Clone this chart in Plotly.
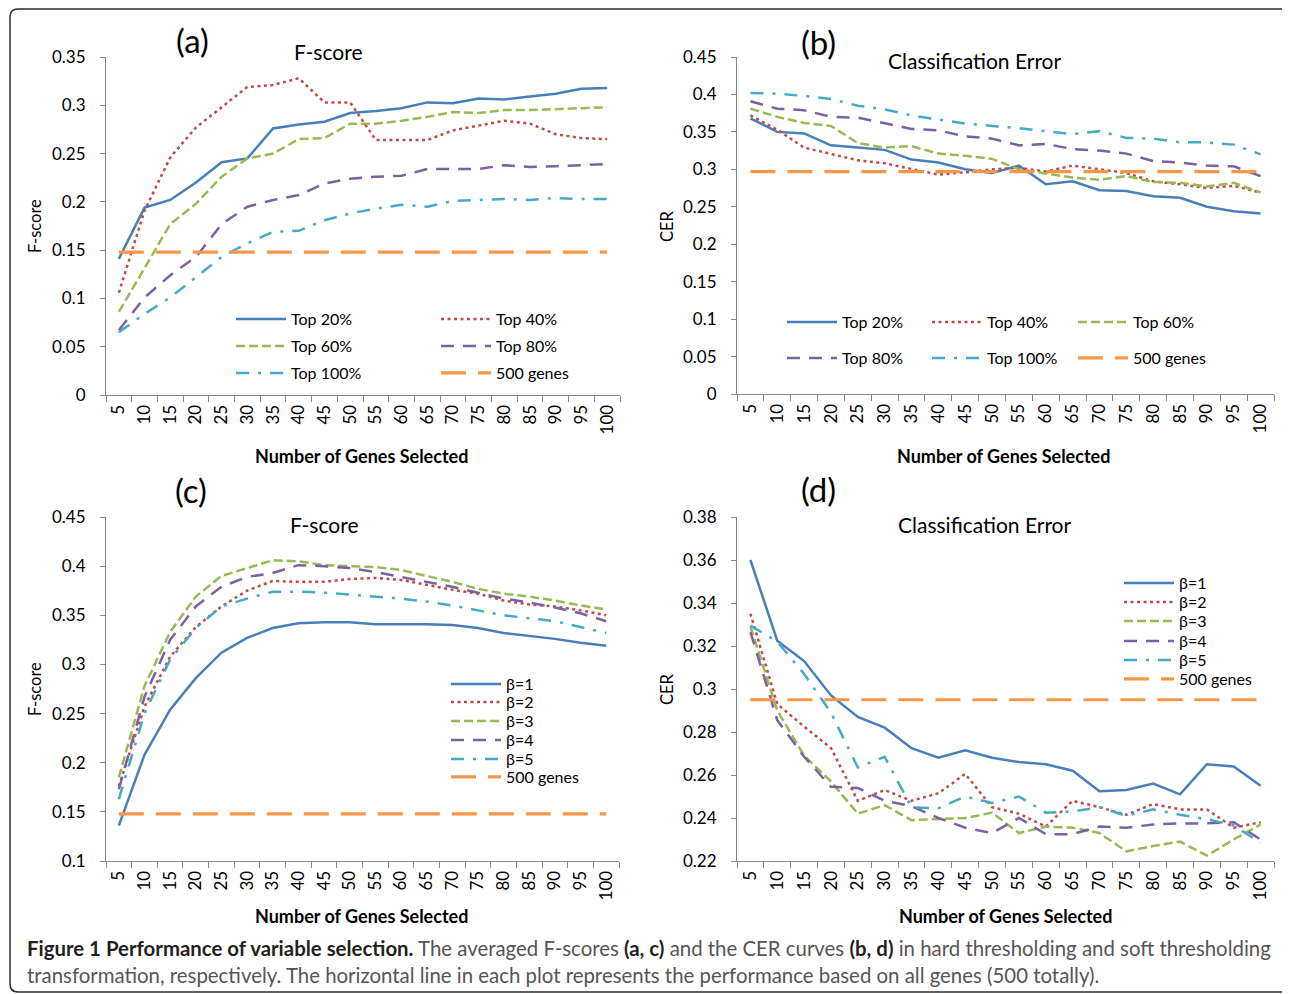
import plotly.graph_objects as go

# ---------------- data ----------------
genes = ["5", "10", "15", "20", "25", "30", "35", "40", "45", "50",
         "55", "60", "65", "70", "75", "80", "85", "90", "95", "100"]

# (a) F-score, hard thresholding
a_top20 = [0.141, 0.194, 0.202, 0.220, 0.241, 0.245, 0.276, 0.280, 0.283, 0.292,
           0.294, 0.297, 0.303, 0.302, 0.307, 0.306, 0.309, 0.312, 0.317, 0.318]
a_top40 = [0.106, 0.191, 0.246, 0.277, 0.298, 0.319, 0.321, 0.328, 0.303, 0.303,
           0.264, 0.264, 0.264, 0.274, 0.279, 0.284, 0.281, 0.270, 0.266, 0.265]
a_top60 = [0.086, 0.132, 0.177, 0.198, 0.226, 0.245, 0.250, 0.265, 0.266, 0.281,
           0.281, 0.284, 0.288, 0.293, 0.292, 0.295, 0.295, 0.296, 0.297, 0.298]
a_top80 = [0.067, 0.101, 0.124, 0.143, 0.177, 0.195, 0.202, 0.207, 0.219, 0.224,
           0.226, 0.227, 0.234, 0.234, 0.234, 0.238, 0.236, 0.237, 0.238, 0.239]
a_top100 = [0.065, 0.084, 0.101, 0.122, 0.143, 0.157, 0.169, 0.170, 0.181, 0.188,
            0.193, 0.197, 0.195, 0.201, 0.202, 0.203, 0.202, 0.204, 0.203, 0.203]
a_all = [0.148] * 20

# (b) CER, hard thresholding
b_top20 = [0.368, 0.350, 0.348, 0.332, 0.329, 0.326, 0.313, 0.309, 0.300, 0.295,
           0.305, 0.280, 0.284, 0.272, 0.271, 0.264, 0.262, 0.250, 0.244, 0.241]
b_top40 = [0.372, 0.353, 0.329, 0.320, 0.312, 0.308, 0.300, 0.293, 0.296, 0.300,
           0.302, 0.297, 0.305, 0.300, 0.295, 0.284, 0.280, 0.275, 0.278, 0.269]
b_top60 = [0.381, 0.370, 0.362, 0.358, 0.335, 0.329, 0.331, 0.321, 0.318, 0.314,
           0.300, 0.295, 0.289, 0.286, 0.291, 0.283, 0.282, 0.277, 0.282, 0.269]
b_top80 = [0.391, 0.381, 0.379, 0.370, 0.369, 0.362, 0.354, 0.352, 0.344, 0.341,
           0.332, 0.334, 0.327, 0.325, 0.321, 0.311, 0.309, 0.305, 0.304, 0.291]
b_top100 = [0.402, 0.401, 0.398, 0.394, 0.385, 0.380, 0.372, 0.367, 0.361, 0.358,
            0.355, 0.351, 0.347, 0.351, 0.342, 0.341, 0.336, 0.336, 0.333, 0.320]
b_all = [0.297] * 20

# (c) F-score, soft thresholding
c_b1 = [0.136, 0.208, 0.254, 0.286, 0.312, 0.327, 0.337, 0.342, 0.343, 0.343,
        0.341, 0.341, 0.341, 0.340, 0.337, 0.332, 0.329, 0.326, 0.322, 0.319]
c_b2 = [0.176, 0.257, 0.308, 0.338, 0.359, 0.375, 0.385, 0.384, 0.384, 0.387,
        0.388, 0.386, 0.381, 0.376, 0.372, 0.365, 0.361, 0.359, 0.355, 0.350]
c_b3 = [0.185, 0.278, 0.333, 0.369, 0.390, 0.398, 0.406, 0.405, 0.401, 0.400,
        0.399, 0.396, 0.390, 0.384, 0.377, 0.372, 0.369, 0.365, 0.360, 0.356]
c_b4 = [0.173, 0.267, 0.325, 0.359, 0.379, 0.389, 0.393, 0.401, 0.400, 0.398,
        0.394, 0.389, 0.384, 0.379, 0.373, 0.367, 0.363, 0.358, 0.352, 0.344]
c_b5 = [0.163, 0.250, 0.305, 0.337, 0.359, 0.367, 0.374, 0.374, 0.373, 0.371,
        0.369, 0.367, 0.364, 0.360, 0.355, 0.350, 0.347, 0.344, 0.338, 0.332]
c_all = [0.148] * 20

# (d) CER, soft thresholding
d_b1 = [0.360, 0.3225, 0.313, 0.297, 0.287, 0.282, 0.2725, 0.268, 0.2715, 0.268,
        0.266, 0.265, 0.262, 0.2525, 0.253, 0.256, 0.251, 0.265, 0.264, 0.255]
d_b2 = [0.335, 0.293, 0.2825, 0.2725, 0.248, 0.253, 0.248, 0.2515, 0.2605, 0.245,
        0.242, 0.236, 0.248, 0.245, 0.2415, 0.2465, 0.244, 0.244, 0.2355, 0.238]
d_b3 = [0.329, 0.290, 0.269, 0.257, 0.242, 0.246, 0.239, 0.2395, 0.240, 0.2425,
        0.233, 0.236, 0.2355, 0.233, 0.2245, 0.227, 0.229, 0.2225, 0.230, 0.237]
d_b4 = [0.3265, 0.2855, 0.2685, 0.2545, 0.254, 0.248, 0.2455, 0.240, 0.2355, 0.233,
        0.240, 0.2325, 0.2325, 0.236, 0.2355, 0.237, 0.2375, 0.2375, 0.238, 0.230]
d_b5 = [0.3295, 0.322, 0.307, 0.289, 0.2635, 0.2685, 0.245, 0.2445, 0.250, 0.247,
        0.250, 0.2425, 0.243, 0.245, 0.241, 0.244, 0.2415, 0.2395, 0.2365, 0.2285]
d_all = [0.295] * 20

names_hard = ["Top 20%", "Top 40%", "Top 60%", "Top 80%", "Top 100%", "500 genes"]
names_soft = ["β=1", "β=2", "β=3", "β=4", "β=5", "500 genes"]

# ---------------- styles ----------------
W, H = 1282, 986          # page body adds an 8px margin
OFF = 8
FONT = "Lato, 'Open Sans', sans-serif"
colors = ["#4A7EBB", "#BE4B48", "#98B954", "#7D60A0", "#46AAC5", "#F79646"]
dashes = ["solid", "3px,3.5px", "9px,4px", "13px,9px", "13px,9px,3px,9px", "25px,12px"]
widths = [2.5, 2.5, 2.5, 2.5, 2.5, 3.2]

def px_x(p):
    return (p - OFF) / W

def px_y(p):
    return 1 - (p - OFF) / H

panels = [
    dict(series=[a_top20, a_top40, a_top60, a_top80, a_top100, a_all], names=names_hard,
         xd=(106, 620), yd=(395, 57), yr=(0, 0.35), dt=0.05,
         leg=[(236, 319), (441, 319), (236, 346), (441, 346), (236, 373), (441, 373)]),
    dict(series=[b_top20, b_top40, b_top60, b_top80, b_top100, b_all], names=names_hard,
         xd=(737, 1274), yd=(394, 57), yr=(0, 0.45), dt=0.05,
         leg=[(787, 322), (932, 322), (1078, 322), (787, 358), (932, 358), (1078, 358)]),
    dict(series=[c_b1, c_b2, c_b3, c_b4, c_b5, c_all], names=names_soft,
         xd=(106, 619), yd=(861, 517), yr=(0.1, 0.45), dt=0.05,
         leg=[(451, 684), (451, 702), (451, 721), (451, 740), (451, 759), (451, 777)]),
    dict(series=[d_b1, d_b2, d_b3, d_b4, d_b5, d_all], names=names_soft,
         xd=(737, 1274), yd=(861, 517), yr=(0.22, 0.38), dt=0.02,
         leg=[(1124, 583), (1124, 602), (1124, 621), (1124, 641), (1124, 660), (1124, 679)]),
]

fig = go.Figure()
layout = dict(
    width=W, height=H,
    margin=dict(l=0, r=0, t=0, b=0, pad=0, autoexpand=False),
    paper_bgcolor="white", plot_bgcolor="white",
    font=dict(family=FONT, size=16, color="#000000"),
)

AXC = "#878787"
leg_idx = 0
for i, p in enumerate(panels):
    n = "" if i == 0 else str(i + 1)
    xa, ya = "x" + n, "y" + n
    for j, (ser, name) in enumerate(zip(p["series"], p["names"])):
        leg_idx += 1
        lname = "legend" if leg_idx == 1 else "legend" + str(leg_idx)
        fig.add_trace(go.Scatter(
            x=genes, y=ser, name=name, mode="lines",
            line=dict(color=colors[j], width=widths[j], dash=dashes[j]),
            xaxis=xa, yaxis=ya, legend=lname, showlegend=True,
        ))
        lx, ly = p["leg"][j]
        layout[lname] = dict(
            x=px_x(lx - 5), y=px_y(ly), xanchor="left", yanchor="middle",
            xref="paper", yref="paper",
            orientation="h", bgcolor="rgba(0,0,0,0)", borderwidth=0,
            itemwidth=50, font=dict(family=FONT, size=16, color="#000000"),
            traceorder="normal",
        )
    layout["xaxis" + n] = dict(
        domain=[px_x(p["xd"][0]), px_x(p["xd"][1])], anchor=ya,
        type="category", categoryorder="array", categoryarray=genes,
        range=[-0.5, len(genes) - 0.5],
        tickangle=-90, tickson="boundaries", ticks="outside", ticklen=6,
        tickcolor=AXC, showline=True, linecolor=AXC, linewidth=1,
        showgrid=False, zeroline=False, tickfont=dict(size=17),
        ticklabelstandoff=2, automargin=False,
    )
    layout["yaxis" + n] = dict(
        domain=[px_y(p["yd"][0]), px_y(p["yd"][1])], anchor=xa,
        range=list(p["yr"]), tickmode="linear", tick0=p["yr"][0], dtick=p["dt"],
        ticks="outside", ticklen=5, tickcolor=AXC, showline=True, linecolor=AXC,
        linewidth=1, showgrid=False, zeroline=False, tickfont=dict(size=17),
        ticklabelstandoff=11, automargin=False,
    )

fig.update_layout(**layout)

def ann(text, x, y, size, bold=False, angle=0, xanchor="center", color="#000000"):
    fig.add_annotation(
        text=("<b>%s</b>" % text) if bold else text,
        x=px_x(x), y=px_y(y), xref="paper", yref="paper",
        xanchor=xanchor, yanchor="middle", showarrow=False, textangle=angle,
        font=dict(family=FONT, size=size, color=color),
    )

panel_labels = [("(a)", 193, 40), ("(b)", 818, 42), ("(c)", 191, 490), ("(d)", 818, 489)]
for t, x, y in panel_labels:
    ann(t, x, y, 33)

titles = [("F-score", 328, 52), ("Classification Error", 975, 61),
          ("F-score", 324, 524), ("Classification Error", 985, 524)]
for t, x, y in titles:
    ann(t, x, y, 21)

ytitles = [("F-score", 35, 226), ("CER", 667, 226), ("F-score", 35, 689), ("CER", 667, 689)]
for t, x, y in ytitles:
    ann(t, x, y, 16.5, angle=-90)

xtitles = [(362, 456), (1003, 456), (361, 916), (1005, 916)]
for x, y in xtitles:
    ann("Number of Genes Selected", x, y, 18, bold=True)

CAP_FONT = "Lato, 'Open Sans', sans-serif"
cap1 = ("<b>Figure 1 Performance of variable selection.</b>"
        "<span style='color:#555555'> The averaged F-scores </span><b>(a, c)</b>"
        "<span style='color:#555555'> and the CER curves </span><b>(b, d)</b>"
        "<span style='color:#555555'> in hard thresholding and soft thresholding</span>")
cap2 = ("<span style='color:#555555'>transformation, respectively. The horizontal line in each plot "
        "represents the performance based on all genes (500 totally).</span>")
for t, y in [(cap1, 948), (cap2, 975)]:
    fig.add_annotation(text=t, x=px_x(25), y=px_y(y), xref="paper", yref="paper",
                       xanchor="left", yanchor="middle", showarrow=False,
                       font=dict(family=CAP_FONT, size=20.4, color="#231F20"))

# rounded frame (right edge falls just outside the picture, as in the reference)
L, R, T, B = px_x(10), px_x(1292), px_y(9), px_y(992)
rx, ry = 8 / W, 8 / H
path = (f"M {L+rx},{T} L {R-rx},{T} Q {R},{T} {R},{T-ry} L {R},{B+ry} Q {R},{B} {R-rx},{B} "
        f"L {L+rx},{B} Q {L},{B} {L},{B+ry} L {L},{T-ry} Q {L},{T} {L+rx},{T} Z")
fig.add_shape(type="path", path=path, xref="paper", yref="paper",
              line=dict(color="#2b2b2b", width=1.5), fillcolor="rgba(0,0,0,0)")

fig.write_html("out.html")
